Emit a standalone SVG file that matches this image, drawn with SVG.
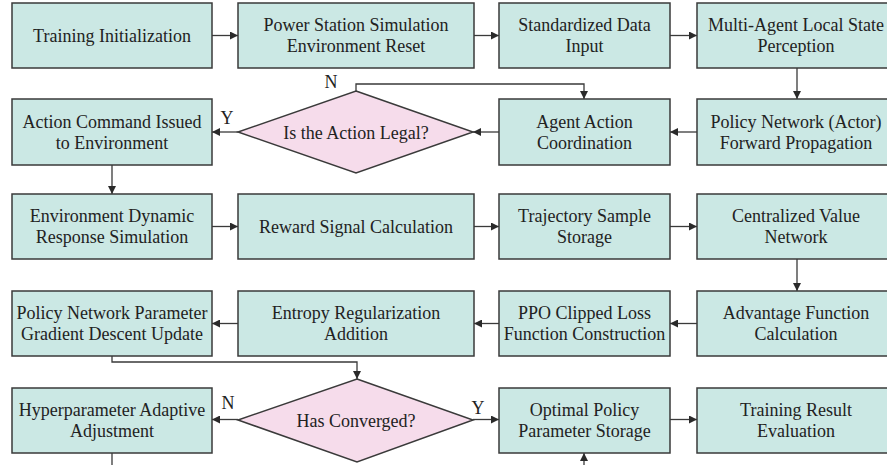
<svg xmlns="http://www.w3.org/2000/svg" width="887" height="465" viewBox="0 0 887 465">
  <style>
    .box { fill: #cbe8e4; stroke: #3a3a3a; stroke-width: 1.5; }
    .dia { fill: #f6dceb; stroke: #3a3a3a; stroke-width: 1.5; }
    .lbl { font-family: "Liberation Serif", "Times New Roman", serif; font-size: 18px; fill: #222222; text-anchor: middle; }
    .yn { font-family: "Liberation Serif", "Times New Roman", serif; font-size: 18px; fill: #222222; text-anchor: middle; }
    .conn path { fill: none; stroke: #3a3a3a; stroke-width: 1.3; }
  </style>
  <defs>
    <marker id="arr" viewBox="0 0 10 10" refX="10" refY="5" markerWidth="8" markerHeight="8" markerUnits="userSpaceOnUse" orient="auto">
      <path d="M0,0 L10,5 L0,10 z" fill="#2a2a2a"/>
    </marker>
  </defs>
  <rect width="887" height="465" fill="#ffffff"/>

  <!-- connectors -->
  <g class="conn">
    <path d="M212,35.5 H238" marker-end="url(#arr)"/>
    <path d="M474,35.5 H499" marker-end="url(#arr)"/>
    <path d="M670,35.5 H697" marker-end="url(#arr)"/>
    <path d="M797,68 V99" marker-end="url(#arr)"/>
    <path d="M697,132 H670" marker-end="url(#arr)"/>
    <path d="M499,132 H473" marker-end="url(#arr)"/>
    <path d="M238,132 H212" marker-end="url(#arr)"/>
    <path d="M356,91 V84 H584 V99" marker-end="url(#arr)"/>
    <path d="M112,165 V194" marker-end="url(#arr)"/>
    <path d="M212,226.5 H238" marker-end="url(#arr)"/>
    <path d="M474,226.5 H499" marker-end="url(#arr)"/>
    <path d="M670,226.5 H697" marker-end="url(#arr)"/>
    <path d="M797,259 V291" marker-end="url(#arr)"/>
    <path d="M697,323.5 H670" marker-end="url(#arr)"/>
    <path d="M499,323.5 H474" marker-end="url(#arr)"/>
    <path d="M238,323.5 H212" marker-end="url(#arr)"/>
    <path d="M112,356 V362 H357 V379" marker-end="url(#arr)"/>
    <path d="M238,419.5 H212" marker-end="url(#arr)"/>
    <path d="M473,419.5 H499" marker-end="url(#arr)"/>
    <path d="M670,419.5 H697" marker-end="url(#arr)"/>
    <path d="M112,453 V466"/>
    <path d="M584,466 V453" marker-end="url(#arr)"/>
  </g>

  <!-- row 1 -->
  <g id="n-train-init">
    <rect class="box" x="12" y="3" width="200" height="65"/>
    <text class="lbl" x="112" y="41.5">Training Initialization</text>
  </g>
  <g id="n-env-reset">
    <rect class="box" x="238" y="3" width="236" height="65"/>
    <text class="lbl" x="356" y="31">Power Station Simulation</text>
    <text class="lbl" x="356" y="52">Environment Reset</text>
  </g>
  <g id="n-data-input">
    <rect class="box" x="499" y="3" width="171" height="65"/>
    <text class="lbl" x="584.5" y="31">Standardized Data</text>
    <text class="lbl" x="584.5" y="52">Input</text>
  </g>
  <g id="n-perception">
    <rect class="box" x="697" y="3" width="200" height="65"/>
    <text class="lbl" x="796" y="31">Multi-Agent Local State</text>
    <text class="lbl" x="796" y="52">Perception</text>
  </g>

  <!-- row 2 -->
  <g id="n-action-issued">
    <rect class="box" x="12" y="99" width="200" height="66"/>
    <text class="lbl" x="112" y="128">Action Command Issued</text>
    <text class="lbl" x="112" y="149">to Environment</text>
  </g>
  <g id="n-legal">
    <polygon class="dia" points="356,91 473,132 356,173 238,132"/>
    <text class="lbl" x="356" y="138.5">Is the Action Legal?</text>
  </g>
  <g id="n-coordination">
    <rect class="box" x="499" y="99" width="171" height="66"/>
    <text class="lbl" x="584.5" y="128">Agent Action</text>
    <text class="lbl" x="584.5" y="149">Coordination</text>
  </g>
  <g id="n-actor">
    <rect class="box" x="697" y="99" width="200" height="66"/>
    <text class="lbl" x="796" y="128">Policy Network (Actor)</text>
    <text class="lbl" x="796" y="149">Forward Propagation</text>
  </g>

  <!-- row 3 -->
  <g id="n-env-response">
    <rect class="box" x="12" y="194" width="200" height="65"/>
    <text class="lbl" x="112" y="222">Environment Dynamic</text>
    <text class="lbl" x="112" y="243">Response Simulation</text>
  </g>
  <g id="n-reward">
    <rect class="box" x="238" y="194" width="236" height="65"/>
    <text class="lbl" x="356" y="232.5">Reward Signal Calculation</text>
  </g>
  <g id="n-trajectory">
    <rect class="box" x="499" y="194" width="171" height="65"/>
    <text class="lbl" x="584.5" y="222">Trajectory Sample</text>
    <text class="lbl" x="584.5" y="243">Storage</text>
  </g>
  <g id="n-critic">
    <rect class="box" x="697" y="194" width="200" height="65"/>
    <text class="lbl" x="796" y="222">Centralized Value</text>
    <text class="lbl" x="796" y="243">Network</text>
  </g>

  <!-- row 4 -->
  <g id="n-gradient">
    <rect class="box" x="12" y="291" width="200" height="65"/>
    <text class="lbl" x="112" y="319">Policy Network Parameter</text>
    <text class="lbl" x="112" y="340">Gradient Descent Update</text>
  </g>
  <g id="n-entropy">
    <rect class="box" x="238" y="291" width="236" height="65"/>
    <text class="lbl" x="356" y="319">Entropy Regularization</text>
    <text class="lbl" x="356" y="340">Addition</text>
  </g>
  <g id="n-ppo-loss">
    <rect class="box" x="499" y="291" width="171" height="65"/>
    <text class="lbl" x="584.5" y="319">PPO Clipped Loss</text>
    <text class="lbl" x="584.5" y="340">Function Construction</text>
  </g>
  <g id="n-advantage">
    <rect class="box" x="697" y="291" width="200" height="65"/>
    <text class="lbl" x="796" y="319">Advantage Function</text>
    <text class="lbl" x="796" y="340">Calculation</text>
  </g>

  <!-- row 5 -->
  <g id="n-hyper">
    <rect class="box" x="12" y="388" width="200" height="65"/>
    <text class="lbl" x="112" y="416">Hyperparameter Adaptive</text>
    <text class="lbl" x="112" y="437">Adjustment</text>
  </g>
  <g id="n-converged">
    <polygon class="dia" points="357,379 473,420 357,462 238,420"/>
    <text class="lbl" x="356" y="426.5">Has Converged?</text>
  </g>
  <g id="n-store-policy">
    <rect class="box" x="499" y="388" width="171" height="65"/>
    <text class="lbl" x="584.5" y="416">Optimal Policy</text>
    <text class="lbl" x="584.5" y="437">Parameter Storage</text>
  </g>
  <g id="n-evaluation">
    <rect class="box" x="697" y="388" width="200" height="65"/>
    <text class="lbl" x="796" y="416">Training Result</text>
    <text class="lbl" x="796" y="437">Evaluation</text>
  </g>

  <!-- branch labels -->
  <text class="yn" x="331" y="88">N</text>
  <text class="yn" x="227" y="124">Y</text>
  <text class="yn" x="228" y="409">N</text>
  <text class="yn" x="478" y="414">Y</text>
</svg>
